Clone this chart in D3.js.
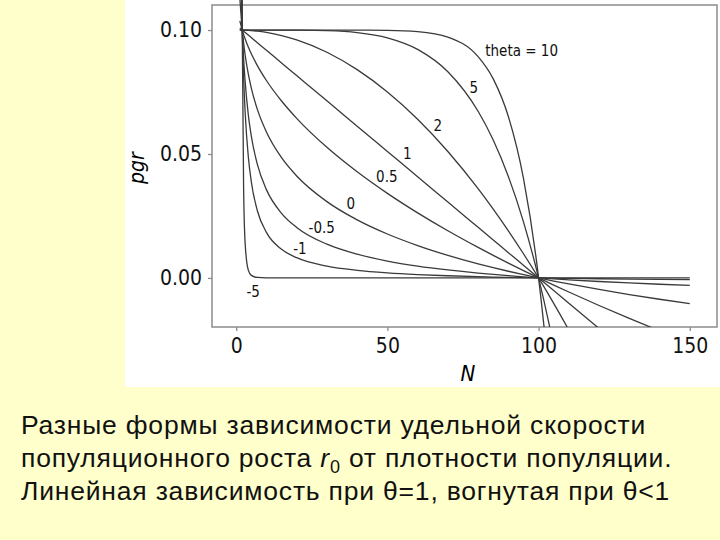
<!DOCTYPE html>
<html>
<head>
<meta charset="utf-8">
<title>Theta-logistic pgr</title>
<script src="https://d3js.org/d3.v7.min.js"></script>
<style>
    html, body { margin: 0; padding: 0; background: #ffffcc; }
    svg { display: block; }
    .tick text { font-family: "DejaVu Sans Condensed", "DejaVu Sans", sans-serif; font-size: 21px; fill: #111; }
    .tick line { stroke: #8c8c8c; stroke-width: 1.3; }
    .curve { fill: none; stroke: #3a3a3a; stroke-width: 1.3; }
    .clabel { font-family: "DejaVu Sans Condensed", "DejaVu Sans", sans-serif; font-size: 15px; fill: #111; }
    .caption { font-family: "Liberation Sans", Arial, sans-serif; font-size: 26.5px; letter-spacing: 0.8px; fill: #111; }
</style>
</head>
<body>
<div id="cont"></div>
<script>
    // population sizes N where pgr was read
    var nValues = [1.2, 2, 2.5, 3, 4, 5, 7, 10, 15, 20, 30, 40, 50, 60, 70, 80, 85, 90, 95, 100, 105, 110, 120, 130, 140, 150];

    // pgr for each theta (same order as nValues)
    var pgrTheta10 = [0.1, 0.1, 0.1, 0.1, 0.1, 0.1, 0.1, 0.1, 0.1, 0.1, 0.1, 0.09999, 0.0999, 0.0994, 0.09718, 0.08926, 0.08031, 0.06513, 0.04013, 0, -0.06289, -0.15937, -0.5192, -1.2786, -2.7925, -5.6665];
    var pgrTheta5 = [0.1, 0.1, 0.1, 0.1, 0.1, 0.1, 0.1, 0.1, 0.1, 0.09997, 0.09976, 0.09898, 0.09688, 0.09222, 0.08319, 0.06723, 0.05563, 0.04095, 0.02262, 0, -0.02763, -0.06105, -0.14883, -0.27129, -0.43782, -0.65938];
    var pgrTheta2 = [0.1, 0.1, 0.09998, 0.09995, 0.09988, 0.09979, 0.09955, 0.09904, 0.09779, 0.09604, 0.09104, 0.08403, 0.07503, 0.06403, 0.05102, 0.03601, 0.02776, 0.01901, 0.00975, 0, -0.01025, -0.02101, -0.04402, -0.06903, -0.09604, -0.12505];
    var pgrTheta1 = [0.10082, 0.1, 0.09949, 0.09898, 0.09796, 0.09694, 0.0949, 0.09184, 0.08673, 0.08163, 0.07143, 0.06122, 0.05102, 0.04082, 0.03061, 0.02041, 0.01531, 0.0102, 0.0051, 0, -0.0051, -0.0102, -0.02041, -0.03061, -0.04082, -0.05102];
    var pgrTheta05 = [0.10371, 0.1, 0.09806, 0.0963, 0.09318, 0.09043, 0.08566, 0.07964, 0.07136, 0.06438, 0.05268, 0.04281, 0.03411, 0.02625, 0.01902, 0.0123, 0.00909, 0.00598, 0.00295, 0, -0.00288, -0.00568, -0.01112, -0.01633, -0.02134, -0.02618];
    var pgrTheta0 = [0.11306, 0.1, 0.0943, 0.08963, 0.08228, 0.07658, 0.06798, 0.05886, 0.04849, 0.04114, 0.03078, 0.02342, 0.01772, 0.01306, 0.00912, 0.0057, 0.00415, 0.00269, 0.00131, 0, -0.00125, -0.00244, -0.00466, -0.00671, -0.0086, -0.01036];
    var pgrThetaM05 = [0.13389, 0.1, 0.0877, 0.07863, 0.06588, 0.05719, 0.04578, 0.03562, 0.02606, 0.02036, 0.0136, 0.00957, 0.00682, 0.00479, 0.00322, 0.00194, 0.00139, 0.00089, 0.00043, 0, -0.0004, -0.00077, -0.00144, -0.00202, -0.00255, -0.00302];
    var pgrThetaM1 = [0.16803, 0.1, 0.07959, 0.06599, 0.04898, 0.03878, 0.02711, 0.01837, 0.01156, 0.00816, 0.00476, 0.00306, 0.00204, 0.00136, 0.00087, 0.00051, 0.00036, 0.00023, 0.00011, 0, -0.0001, -0.00019, -0.00034, -0.00047, -0.00058, -0.00068];
    var pgrThetaM5 = [1.286, 0.1, 0.03277, 0.01317, 0.003125, 0.001024, 0.00019, 0.000032, 0.000004, 0, 0, 0, 0, 0, 0, 0, 0, 0, 0, 0, 0, 0, 0, 0, 0, 0];

    var series = [pgrTheta10, pgrTheta5, pgrTheta2, pgrTheta1, pgrTheta05, pgrTheta0, pgrThetaM05, pgrThetaM1, pgrThetaM5];

    // curve labels, placed at (N, pgr)
    var labelText = ['theta = 10', '5', '2', '1', '0.5', '0', '-0.5', '-1', '-5'];
    var labelN = [94.4, 78.6, 66.7, 56.6, 49.8, 37.9, 28.3, 21.1, 5.6];
    var labelPgr = [0.0915, 0.0766, 0.0613, 0.05, 0.0408, 0.0298, 0.02, 0.0117, -0.0057];

    var xTicks = [0, 50, 100, 150];
    var yTicks = [0, 0.05, 0.1];

    var captionLines = [
        ['Разные формы зависимости удельной скорости'],
        ['популяционного роста ', 'r', '0', ' от плотности популяции.'],
        ['Линейная зависимость при θ=1, вогнутая при θ<1']
    ];

    var W = 720, H = 540;

    var svg = d3.select('#cont').append('svg')
        .attr('width', W)
        .attr('height', H);

    // white panel behind the figure
    svg.append('rect')
        .attr('x', 125).attr('y', 0)
        .attr('width', W - 125).attr('height', 387)
        .attr('fill', '#ffffff');

    var x = d3.scaleLinear().domain([-8, 159]).range([212, 717]);
    var y = d3.scaleLinear().domain([-0.0198, 0.1101]).range([327, 5]);

    svg.append('clipPath').attr('id', 'plotclip')
        .append('rect')
        .attr('x', x(-8)).attr('y', 0)
        .attr('width', x(159) - x(-8)).attr('height', y(-0.0198));

    //Frame
    svg.append('rect')
        .attr('x', x(-8)).attr('y', y(0.1101))
        .attr('width', x(159) - x(-8))
        .attr('height', y(-0.0198) - y(0.1101))
        .attr('fill', 'none')
        .attr('stroke', '#8c8c8c')
        .attr('stroke-width', 1.5);

    //Axes
    var yAxis = d3.axisLeft(y).tickValues(yTicks).tickSize(4).tickPadding(6)
        .tickFormat(d3.format('.2f'));
    var xAxis = d3.axisBottom(x).tickValues(xTicks).tickSize(4).tickPadding(7)
        .tickFormat(d3.format('d'));

    svg.append('g')
        .attr('class', 'axis yaxis')
        .attr('transform', 'translate(' + x(-8) + ',0)')
        .call(yAxis)
        .select('.domain').remove();

    svg.append('g')
        .attr('class', 'axis xaxis')
        .attr('transform', 'translate(0,' + y(-0.0198) + ')')
        .call(xAxis)
        .select('.domain').remove();

    //Curves
    var line = d3.line()
        .x(function(d, i) { return x(nValues[i]); })
        .y(function(d) { return y(d); })
        .curve(d3.curveMonotoneX);

    svg.append('g')
        .attr('clip-path', 'url(#plotclip)')
        .selectAll('path')
        .data(series)
        .enter()
        .append('path')
        .attr('class', 'curve')
        .attr('d', line);

    //Curve labels
    svg.selectAll('.clabel')
        .data(labelText)
        .enter()
        .append('text')
        .attr('class', 'clabel')
        .attr('x', function(d, i) { return x(labelN[i]); })
        .attr('y', function(d, i) { return y(labelPgr[i]); })
        .attr('text-anchor', 'middle')
        .attr('dominant-baseline', 'central')
        .text(function(d) { return d; });

    //Axis titles
    svg.append('text')
        .attr('transform', 'translate(144,168) rotate(-90)')
        .attr('text-anchor', 'middle')
        .style('font-family', '"DejaVu Sans Condensed", "DejaVu Sans", sans-serif')
        .style('font-style', 'italic')
        .style('font-size', '21px')
        .text('pgr');

    svg.append('text')
        .attr('x', 468).attr('y', 381)
        .attr('text-anchor', 'middle')
        .style('font-family', '"DejaVu Sans Condensed", "DejaVu Sans", sans-serif')
        .style('font-style', 'italic')
        .style('font-size', '22px')
        .text('N');

    //Caption below the figure
    var cap = svg.append('g');
    captionLines.forEach(function(parts, li) {
        var t = cap.append('text')
            .attr('class', 'caption')
            .attr('x', 21)
            .attr('y', 434 + li * 33);
        if (parts.length === 1) {
            t.text(parts[0]);
        } else {
            t.append('tspan').text(parts[0]);
            t.append('tspan').style('font-style', 'italic').text(parts[1]);
            t.append('tspan').attr('dy', 6).style('font-size', '18px').text(parts[2]);
            t.append('tspan').attr('dy', -6).text(parts[3]);
        }
    });
</script>
</body>
</html>
